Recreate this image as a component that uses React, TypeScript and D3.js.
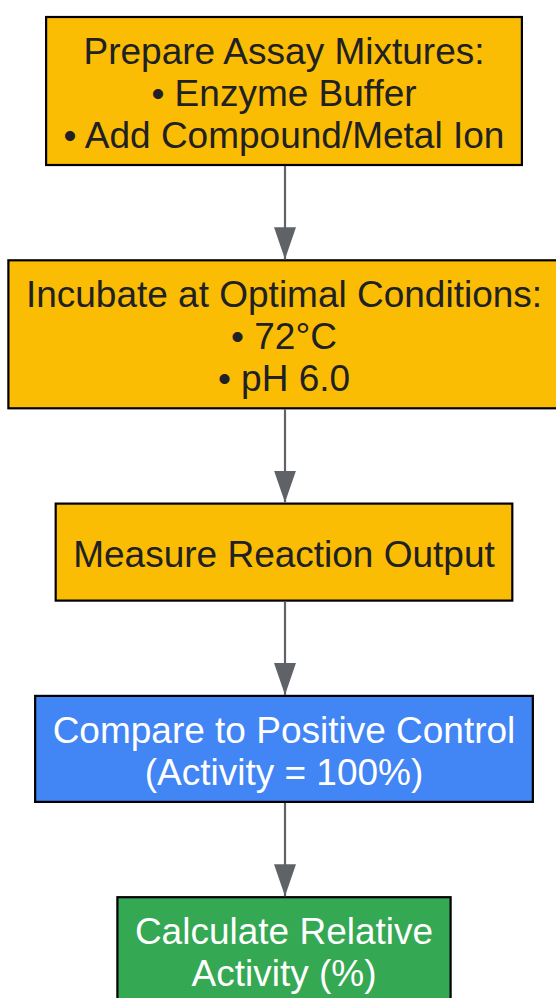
import * as d3 from "d3"
import { useRef, useEffect } from "react"

const stepLines: string[][] = [
  ["Prepare Assay Mixtures:", "• Enzyme Buffer", "• Add Compound/Metal Ion"],
  ["Incubate at Optimal Conditions:", "• 72°C", "• pH 6.0"],
  ["Measure Reaction Output"],
  ["Compare to Positive Control", "(Activity = 100%)"],
  ["Calculate Relative", "Activity (%)"],
]
const stepKinds = ["process", "process", "process", "control", "result"]

const fillFor: Record<string, string> = {
  process: "#FBBC04",
  control: "#4285F4",
  result: "#34A853",
}
const textFor: Record<string, string> = {
  process: "#202124",
  control: "#FFFFFF",
  result: "#FFFFFF",
}

export default function App() {
  const svgRef = useRef<SVGSVGElement>(null)

  useEffect(() => {
    if (!svgRef.current) return
    const width = 556
    const height = 998
    const cx = 284
    const fontSize = 37
    const lineH = 42
    const padY = 11
    const padX = 17.5
    const minH = 97
    const gap = 95.3
    const top0 = 17

    const svg = d3.select(svgRef.current)
    svg.selectAll("*").remove()
    svg.attr("width", width).attr("height", height).attr("viewBox", `0 0 ${width} ${height}`)

    svg
      .append("defs")
      .append("marker")
      .attr("id", "arrowhead")
      .attr("viewBox", "0 0 32 22")
      .attr("refX", 32)
      .attr("refY", 11)
      .attr("markerUnits", "userSpaceOnUse")
      .attr("markerWidth", 32)
      .attr("markerHeight", 22)
      .attr("orient", "auto")
      .append("path")
      .attr("d", "M0,0 L32,11 L0,22 Z")
      .attr("fill", "#5F6368")

    // box heights from line counts, then stack them
    const heights = stepLines.map((l) => Math.max(minH, l.length * lineH + padY * 2))
    const tops: number[] = []
    heights.reduce((acc, h) => {
      tops.push(acc)
      return acc + h + gap
    }, top0)

    const nodes = svg
      .selectAll("g.node")
      .data(stepLines)
      .enter()
      .append("g")
      .attr("class", "node")

    const rects = nodes
      .append("rect")
      .attr("y", (_, i) => tops[i])
      .attr("height", (_, i) => heights[i])
      .attr("fill", (_, i) => fillFor[stepKinds[i]])
      .attr("stroke", "#000")
      .attr("stroke-width", 2.2)

    nodes.each(function (lines, i) {
      const g = d3.select(this)
      const cy = tops[i] + heights[i] / 2
      const texts = g
        .selectAll("text")
        .data(lines)
        .enter()
        .append("text")
        .attr("x", cx)
        .attr("y", (_, j) => cy + (j - (lines.length - 1) / 2) * lineH + 15)
        .attr("text-anchor", "middle")
        .style("font-family", "'Liberation Sans', Arial, sans-serif")
        .style("font-size", `${fontSize}px`)
        .style("fill", textFor[stepKinds[i]])
        .text((d) => d)
      let maxW = 0
      texts.each(function () {
        maxW = Math.max(maxW, (this as SVGTextElement).getComputedTextLength())
      })
      const w = maxW + padX * 2
      d3.select(rects.nodes()[i]).attr("x", cx - w / 2).attr("width", w)
    })

    // connectors between consecutive steps
    svg
      .selectAll("line.edge")
      .data(d3.pairs(d3.range(stepLines.length)))
      .enter()
      .append("line")
      .attr("class", "edge")
      .attr("x1", cx + 1)
      .attr("x2", cx + 1)
      .attr("y1", ([a]) => tops[a] + heights[a] + 1)
      .attr("y2", ([, b]) => tops[b] - 1)
      .attr("stroke", "#5F6368")
      .attr("stroke-width", 2.2)
      .attr("marker-end", "url(#arrowhead)")
  }, [])

  return (
    <div style={{ position: "absolute", left: 0, top: 0 }}>
      <svg ref={svgRef}></svg>
    </div>
  )
}
